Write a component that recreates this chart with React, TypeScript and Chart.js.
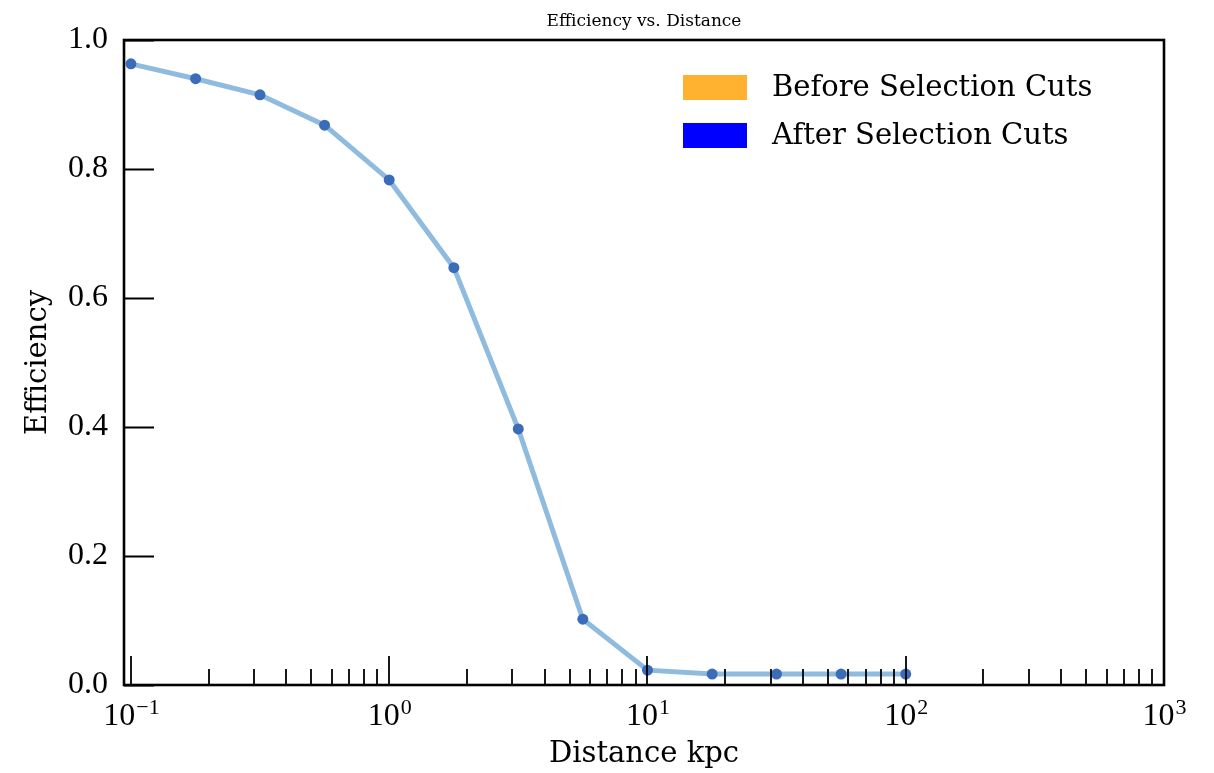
import React, { useEffect, useRef } from "react";
import { Chart, registerables } from "chart.js";

Chart.register(...registerables);

// ---- data ----
const distances = [0.1, 0.178, 0.316, 0.562, 1, 1.78, 3.16, 5.62, 10, 17.8, 31.6, 56.2, 100];
const efficiency = [0.963, 0.94, 0.915, 0.868, 0.783, 0.647, 0.397, 0.102, 0.023, 0.017, 0.017, 0.017, 0.017];

const xMajorTicks = [0.1, 1, 10, 100, 1000];
const xTickBase = "10";
const xTickExponents = ["−1", "0", "1", "2", "3"];
const yTicks = [0, 0.2, 0.4, 0.6, 0.8, 1.0];

const legendLabels = ["Before Selection Cuts", "After Selection Cuts"];
const legendColors = ["#ffb12f", "#0000ff"];

const titleText = "Efficiency vs. Distance";
const xTitle = "Distance kpc";
const yTitle = "Efficiency";

const xMinorTicks: number[] = [];
for (const d of [0.1, 1, 10, 100]) {
  for (let m = 2; m <= 9; m++) xMinorTicks.push(m * d);
}

const framePlugin = {
  id: "frameTicksLegend",
  afterDraw(chart: any) {
    const { ctx, chartArea: a, scales } = chart;
    const xs = scales.x;
    const ys = scales.y;
    ctx.save();

    // title centred over the plot area
    ctx.fillStyle = "#000";
    ctx.font = '17px "DejaVu Serif"';
    ctx.textAlign = "center";
    ctx.textBaseline = "middle";
    ctx.fillText(titleText, (a.left + a.right) / 2, 22);

    // inward ticks
    ctx.strokeStyle = "#000";
    ctx.lineWidth = 1.8;
    ctx.beginPath();
    for (const v of yTicks) {
      const py = Math.round(ys.getPixelForValue(v)) + 0.5;
      ctx.moveTo(a.left, py);
      ctx.lineTo(a.left + 30, py);
    }
    for (const v of xMajorTicks) {
      const px = Math.round(xs.getPixelForValue(v));
      ctx.moveTo(px, a.bottom);
      ctx.lineTo(px, a.bottom - 29);
    }
    for (const v of xMinorTicks) {
      const px = Math.round(xs.getPixelForValue(v));
      ctx.moveTo(px, a.bottom);
      ctx.lineTo(px, a.bottom - 16);
    }
    ctx.stroke();
    ctx.lineWidth = 2.6;
    ctx.strokeRect(a.left, a.top, a.right - a.left, a.bottom - a.top);

    // x tick labels with superscript exponents
    ctx.textAlign = "left";
    ctx.textBaseline = "alphabetic";
    const baseFont = '32px "Liberation Serif"';
    const expFont = '22px "Liberation Serif"';
    xMajorTicks.forEach((v, i) => {
      const px = xs.getPixelForValue(v);
      ctx.font = baseFont;
      const wb = ctx.measureText(xTickBase).width;
      ctx.font = expFont;
      const we = ctx.measureText(xTickExponents[i]).width;
      const start = px - (wb + we) / 2;
      ctx.font = baseFont;
      ctx.fillText(xTickBase, start, a.bottom + 40);
      ctx.font = expFont;
      ctx.fillText(xTickExponents[i], start + wb + 1, a.bottom + 29);
    });

    // legend inside plot, upper right
    const boxLeft = a.right - 481;
    ctx.font = '29px "DejaVu Serif"';
    ctx.textBaseline = "middle";
    ctx.textAlign = "left";
    legendLabels.forEach((lab, i) => {
      const top = a.top + 35 + i * 48;
      ctx.fillStyle = legendColors[i];
      ctx.fillRect(boxLeft, top, 64, 25);
      ctx.fillStyle = "#000";
      ctx.fillText(lab, boxLeft + 89, top + 13);
    });
    ctx.restore();
  },
};

export default function App() {
  const ref = useRef<HTMLCanvasElement | null>(null);

  useEffect(() => {
    if (!ref.current) return;
    const chart = new Chart(ref.current, {
      type: "line",
      data: {
        datasets: [
          {
            label: "Efficiency",
            data: distances.map((d, i) => ({ x: d, y: efficiency[i] })),
            borderColor: "#8fbcde",
            borderWidth: 5,
            pointRadius: 5.5,
            pointBorderWidth: 0,
            pointBackgroundColor: "#3a6cb8",
            pointBorderColor: "#3a6cb8",
            tension: 0,
            fill: false,
            clip: false as any,
          },
        ],
      },
      options: {
        responsive: false,
        animation: false,
        layout: { padding: { left: 0, right: 50, top: 40, bottom: 0 } },
        plugins: {
          legend: { display: false },
          tooltip: { enabled: false },
          title: { display: false },
        },
        scales: {
          x: {
            type: "logarithmic",
            min: 0.094,
            max: 1000,
            grid: { display: false, drawTicks: false },
            border: { display: false },
            afterBuildTicks: (s: any) => {
              s.ticks = xMajorTicks.map((v) => ({ value: v }));
            },
            afterFit: (s: any) => {
              s.height = 88;
            },
            ticks: { display: false },
            title: {
              display: true,
              text: xTitle,
              color: "#000",
              font: { family: '"DejaVu Serif"', size: 29 },
              padding: { top: 0, bottom: 1 },
            },
          },
          y: {
            min: 0,
            max: 1,
            grid: { display: false, drawTicks: false },
            border: { display: false },
            afterBuildTicks: (s: any) => {
              s.ticks = yTicks.map((v) => ({ value: v }));
            },
            afterFit: (s: any) => {
              s.width = 124;
            },
            ticks: {
              callback: (v: any) => Number(v).toFixed(1),
              color: "#000",
              font: { family: '"Liberation Serif"', size: 32 },
              padding: 16,
            },
            title: {
              display: true,
              text: yTitle,
              color: "#000",
              font: { family: '"DejaVu Serif"', size: 29 },
              padding: { top: 21, bottom: 0 },
            },
          },
        },
      },
      plugins: [framePlugin],
    });
    return () => chart.destroy();
  }, []);

  return (
    <div style={{ position: "fixed", left: 0, top: 0, width: 1214, height: 773, background: "#fff" }}>
      <canvas ref={ref} width={1214} height={773} style={{ display: "block" }} />
    </div>
  );
}
